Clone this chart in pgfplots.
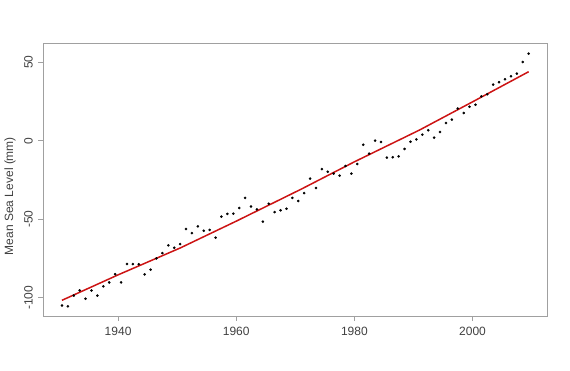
\documentclass[border=0pt]{standalone}
\usepackage{pgfplots}
\pgfplotsset{compat=1.18}
\usepackage{fontspec}
\setmainfont{Liberation Sans}
\definecolor{framegray}{HTML}{A0A0A0}
\definecolor{txtgray}{HTML}{404040}
\definecolor{fitred}{HTML}{CC1414}
\begin{document}
\begin{tikzpicture}
\begin{axis}[
  anchor=south west, at={(0,0)},
  scale only axis,
  width=504bp, height=272.7bp,
  xmin=1927.34, xmax=2012.66,
  ymin=-111.6, ymax=62.1,
  axis line style={framegray, line width=0.8bp},
  tick style={framegray, line width=0.8bp},
  tick align=outside,
  major tick length=5bp,
  xtick={1940,1960,1980,2000},
  xticklabels={1940,1960,1980,2000},
  ytick={-100,-50,0,50},
  yticklabels={-100,-50,0,50},
  xtick pos=bottom, ytick pos=left,
  font=\fontsize{12bp}{14bp}\selectfont,
  tick label style={txtgray},
  xticklabel style={yshift=-3bp},
  yticklabel style={rotate=90, anchor=south, xshift=0bp, yshift=2bp},
  ylabel={Mean Sea Level (mm)},
  ylabel style={txtgray, at={(axis description cs:-0.066,0.44)}, anchor=center, rotate=0},
  clip=false,
  /pgf/number format/assume math mode=true,
]
\addplot[only marks, mark=*, mark size=1.1bp, black] coordinates {
(1930.5,-104.9) (1931.5,-105.4) (1932.5,-98.6) (1933.5,-95.3) (1934.5,-100.6)
(1935.5,-95.3) (1936.5,-98.6) (1937.5,-92.7) (1938.5,-90.2) (1939.5,-85.0)
(1940.5,-90.2) (1941.5,-78.5) (1942.5,-78.5) (1943.5,-78.7) (1944.5,-85.1)
(1945.5,-82.1) (1946.5,-74.9) (1947.5,-71.5) (1948.5,-66.6) (1949.5,-68.1)
(1950.5,-65.8) (1951.5,-56.2) (1952.5,-58.8) (1953.5,-54.5) (1954.5,-57.3)
(1955.5,-56.8) (1956.5,-61.7) (1957.5,-48.3) (1958.5,-46.6) (1959.5,-46.4)
(1960.5,-42.8) (1961.5,-36.4) (1962.5,-41.8) (1963.5,-43.7) (1964.5,-51.5)
(1965.5,-40.1) (1966.5,-45.4) (1967.5,-44.3) (1968.5,-43.3) (1969.5,-36.4)
(1970.5,-38.4) (1971.5,-33.3) (1972.5,-24.1) (1973.5,-30.1) (1974.5,-18.0)
(1975.5,-19.7) (1976.5,-20.9) (1977.5,-22.2) (1978.5,-16.1) (1979.5,-20.9)
(1980.5,-14.8) (1981.5,-2.5) (1982.5,-8.2) (1983.5,0.1) (1984.5,-0.8)
(1985.5,-10.7) (1986.5,-10.5) (1987.5,-9.9) (1988.5,-5.2) (1989.5,-0.6)
(1990.5,0.9) (1991.5,3.9) (1992.5,6.7) (1993.5,2.0) (1994.5,5.6)
(1995.5,11.3) (1996.5,13.5) (1997.5,20.5) (1998.5,17.7) (1999.5,21.7)
(2000.5,23.0) (2001.5,28.3) (2002.5,29.6) (2003.5,35.8) (2004.5,37.3)
(2005.5,39.2) (2006.5,41.1) (2007.5,42.8) (2008.5,50.2) (2009.5,55.5)
};
\addplot[fitred, line width=1.5bp] coordinates {
(1930.5,-101.6) (1940,-85.4) (1950.5,-68.3) (1960,-51.2) (1971,-30.8)
(1980,-13.4) (1991,6.8) (2000,24.8) (2009.5,44.0)
};
\end{axis}
\path[use as bounding box] (-43.3bp,-55bp) rectangle (526.7bp,316bp);
\end{tikzpicture}
\end{document}
